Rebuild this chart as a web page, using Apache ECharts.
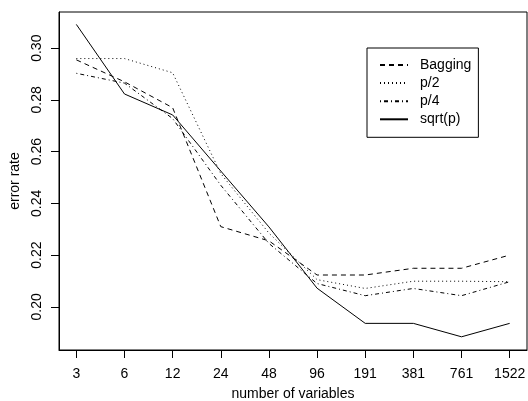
<!DOCTYPE html>
<html>
<head>
<meta charset="utf-8">
<script src="https://cdn.jsdelivr.net/npm/echarts@6/dist/echarts.min.js"></script>
<style>html,body{margin:0;padding:0;background:#fff}#c{width:528px;height:401px}</style>
</head>
<body>
<div id="c"></div>
<script>
var categories = ['3','6','12','24','48','96','191','381','761','1522'];
var bagging = [0.2955,0.287,0.277,0.231,0.2255,0.2123,0.2123,0.2149,0.2149,0.2200];
var pHalf   = [0.296,0.296,0.2905,0.2515,0.2285,0.2105,0.2071,0.2099,0.2099,0.2097];
var pQuart  = [0.2903,0.2865,0.2728,0.247,0.2245,0.209,0.2043,0.2071,0.2043,0.2097];
var sqrtP   = [0.3092,0.2823,0.2742,0.2525,0.2309,0.2072,0.1936,0.1936,0.1884,0.1936];
var yTicks = [0.20,0.22,0.24,0.26,0.28,0.30];

function pts(arr){ return arr.map(function(v,i){ return [i+1, v]; }); }
var xIdx = categories.map(function(_,i){ return i+1; });
var font = 'Liberation Sans, Arial, sans-serif';
var hidden = { color: 'rgba(0,0,0,0)', borderWidth: 0 };

var chart = echarts.init(document.getElementById('c'));
chart.setOption({
  animation: false,
  backgroundColor: '#fff',
  textStyle: { fontFamily: font, color: '#000' },
  grid: { left: 59, top: 12, right: 1, bottom: 51, outerBoundsMode: 'none', containLabel: false,
          show: true, borderColor: '#000', borderWidth: 1, backgroundColor: 'transparent' },
  legend: {
    orient: 'vertical', left: 367, top: 48,
    padding: [10, 7, 11, 12],
    itemWidth: 28, itemHeight: 14, itemGap: 4.1,
    borderColor: '#000', borderWidth: 1,
    itemStyle: { opacity: 0 },
    textStyle: { fontFamily: font, fontSize: 14, color: '#000', padding: [0,0,0,7] },
    data: ['Bagging','p/2','p/4','sqrt(p)']
  },
  xAxis: {
    type: 'value', min: 0.64, max: 10.36,
    name: 'number of variables', nameLocation: 'middle', nameGap: 37,
    nameTextStyle: { fontFamily: font, fontSize: 14, color: '#000' },
    axisLine: { show: true, lineStyle: { color: '#000', width: 1 } },
    axisTick: { show: true, length: 8, customValues: xIdx, lineStyle: { color: '#000' } },
    axisLabel: { customValues: xIdx, margin: 17, fontSize: 14, color: '#000', fontFamily: font,
      formatter: function(v){ return categories[Math.round(v)-1] || ''; } },
    splitLine: { show: false }
  },
  yAxis: {
    type: 'value', min: 0.1833, max: 0.314,
    name: 'error rate', nameLocation: 'middle', nameGap: 33,
    nameTextStyle: { fontFamily: font, fontSize: 14, color: '#000' },
    axisLine: { show: true, lineStyle: { color: '#000', width: 1 } },
    axisTick: { show: true, length: 8, customValues: yTicks, lineStyle: { color: '#000' } },
    axisLabel: { customValues: yTicks, rotate: 90, margin: 15, fontSize: 14, color: '#000', fontFamily: font,
      formatter: function(v){ return v.toFixed(2); } },
    splitLine: { show: false }
  },
  series: [
    { name: 'Bagging', type: 'line', data: pts(bagging), symbol: 'none', lineStyle: { color: '#000', width: 1, type: [5,4] }, itemStyle: hidden },
    { name: 'p/2', type: 'line', data: pts(pHalf), symbol: 'none', lineStyle: { color: '#000', width: 1, type: [1,3] }, itemStyle: hidden },
    { name: 'p/4', type: 'line', data: pts(pQuart), symbol: 'none', lineStyle: { color: '#000', width: 1, type: [1,3,4,3] }, itemStyle: hidden },
    { name: 'sqrt(p)', type: 'line', data: pts(sqrtP), symbol: 'none', lineStyle: { color: '#000', width: 1, type: 'solid' }, itemStyle: hidden }
  ]
});
</script>
</body>
</html>
